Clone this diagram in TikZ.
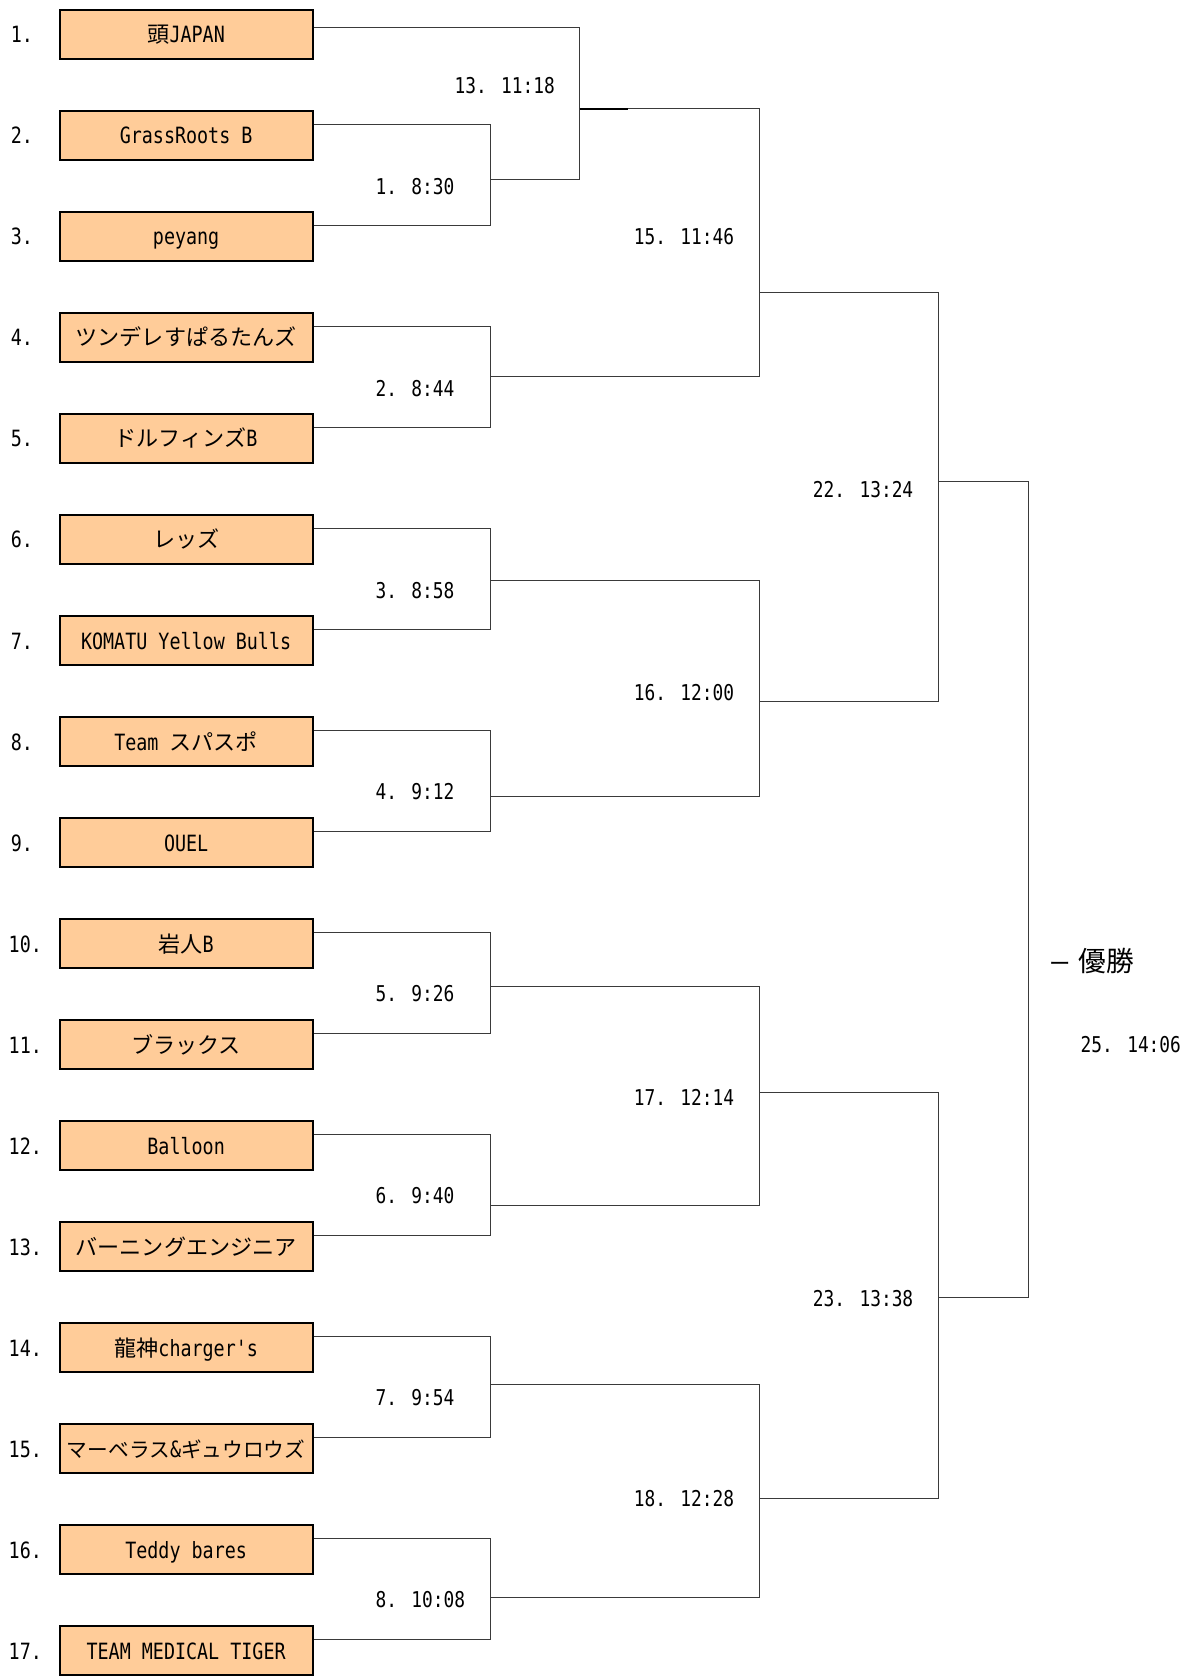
\documentclass[tikz,border=0pt]{standalone}
\usepackage{fontspec}
\usetikzlibrary{calc}
\newfontfamily\jpfont{Noto Sans CJK JP}
\newfontfamily\latfont[FakeStretch=0.82]{DejaVu Sans Mono}
\newcommand\jtx[1]{{\jpfont\fontsize{20.7}{21}\selectfont #1}}
\newcommand\jsm[1]{{\jpfont\fontsize{19.4}{21}\selectfont #1}}
\newcommand\ltsize{\latfont\fontsize{21}{21}\selectfont}
\newcommand\lblsize{\latfont\fontsize{20.4}{21}\selectfont}
\definecolor{peach}{HTML}{FFCC99}
\definecolor{wirecol}{HTML}{3A3A3A}
\begin{document}
\begin{tikzpicture}[x=1pt,y=-1pt,
  teambox/.style={draw=black, line width=1.9pt, fill=peach, minimum width=237pt,
    minimum height=46pt, inner sep=0pt, text height=15.3pt, text depth=0pt, font=\ltsize},
  numlbl/.style={anchor=west, inner sep=0pt, text height=15.3pt, text depth=0pt, font=\ltsize},
  matchlbl/.style={anchor=west, inner sep=0pt, text height=15.3pt, text depth=0pt, font=\lblsize},
  wire/.style={draw=wirecol, line width=1pt}]
\useasboundingbox (0,0) rectangle (1109.2,1571.3);
\fill[white] (0,0) rectangle (1109.2,1571.3);

% team boxes
\node[teambox] (t1)  at (174.5,32.6)   {\jtx{頭}JAPAN};
\node[teambox] (t2)  at (174.5,127.3)  {GrassRoots B};
\node[teambox] (t3)  at (174.5,222.0)  {peyang};
\node[teambox] (t4)  at (174.5,316.7)  {\jtx{ツンデレすぱるたんズ}};
\node[teambox] (t5)  at (174.5,411.4)  {\jtx{ドルフィンズ}B};
\node[teambox] (t6)  at (174.5,506.1)  {\jtx{レッズ}};
\node[teambox] (t7)  at (174.5,600.8)  {KOMATU Yellow Bulls};
\node[teambox] (t8)  at (174.5,695.5)  {Team \jtx{スパスポ}};
\node[teambox] (t9)  at (174.5,790.2)  {OUEL};
\node[teambox] (t10) at (174.5,884.9)  {\jtx{岩人}B};
\node[teambox] (t11) at (174.5,979.6)  {\jtx{ブラックス}};
\node[teambox] (t12) at (174.5,1074.3) {Balloon};
\node[teambox] (t13) at (174.5,1169.0) {\jtx{バーニングエンジニア}};
\node[teambox] (t14) at (174.5,1263.7) {\jtx{龍神}charger's};
\node[teambox] (t15) at (174.5,1358.4) {\jsm{マーベラス}\&\jsm{ギュウロウズ}};
\node[teambox] (t16) at (174.5,1453.1) {Teddy bares};
\node[teambox] (t17) at (174.5,1547.8) {TEAM MEDICAL TIGER};

% seed numbers
\node[numlbl] (n1)  at (10,32.6)   {1.};
\node[numlbl] (n2)  at (10,127.3)  {2.};
\node[numlbl] (n3)  at (10,222.0)  {3.};
\node[numlbl] (n4)  at (10,316.7)  {4.};
\node[numlbl] (n5)  at (10,411.4)  {5.};
\node[numlbl] (n6)  at (10,506.1)  {6.};
\node[numlbl] (n7)  at (10,600.8)  {7.};
\node[numlbl] (n8)  at (10,695.5)  {8.};
\node[numlbl] (n9)  at (10,790.2)  {9.};
\node[numlbl] (n10) at (8,884.9)   {10.};
\node[numlbl] (n11) at (8,979.6)   {11.};
\node[numlbl] (n12) at (8,1074.3)  {12.};
\node[numlbl] (n13) at (8,1169.0)  {13.};
\node[numlbl] (n14) at (8,1263.7)  {14.};
\node[numlbl] (n15) at (8,1358.4)  {15.};
\node[numlbl] (n16) at (8,1453.1)  {16.};
\node[numlbl] (n17) at (8,1547.8)  {17.};

% entry points on the boxes
\coordinate (p1) at ($(t1.east)+(0,-6.6)$);
\foreach \i in {2,...,17} {\coordinate (p\i) at ($(t\i.east)+(0,-11)$);}

% match junctions
\coordinate (m1)  at (460,168);
\coordinate (m2)  at (460,353);
\coordinate (m3)  at (460,544.5);
\coordinate (m4)  at (460,747);
\coordinate (m5)  at (460,925);
\coordinate (m6)  at (460,1130);
\coordinate (m7)  at (460,1298);
\coordinate (m8)  at (460,1498);
\coordinate (m13) at (543.5,102);
\coordinate (m15) at (712,274);
\coordinate (m16) at (712,658);
\coordinate (m17) at (712,1024);
\coordinate (m18) at (712,1405);
\coordinate (m22) at (880,451);
\coordinate (m23) at (880,1216);
\coordinate (m25) at (964.5,900);

% connectors
\draw[wire] (p2)  -| (m1) |- (p3);
\draw[wire] (p4)  -| (m2) |- (p5);
\draw[wire] (p6)  -| (m3) |- (p7);
\draw[wire] (p8)  -| (m4) |- (p9);
\draw[wire] (p10) -| (m5) |- (p11);
\draw[wire] (p12) -| (m6) |- (p13);
\draw[wire] (p14) -| (m7) |- (p15);
\draw[wire] (p16) -| (m8) |- (p17);
\draw[wire] (p1)  -| (m13) |- (m1);
\draw[wire] (m13) -| (m15) |- (m2);
\draw[wire] (m3)  -| (m16) |- (m4);
\draw[wire] (m5)  -| (m17) |- (m6);
\draw[wire] (m7)  -| (m18) |- (m8);
\draw[wire] (m15) -| (m22) |- (m16);
\draw[wire] (m17) -| (m23) |- (m18);
\draw[wire] (m22) -| (m25) |- (m23);
\draw[draw=black, line width=1.4pt] (m13) -- ($(m13)+(45,0)$);

% match labels
\node[matchlbl] (l13) at (426,80)   {13. 11:18};
\node[matchlbl] (l1)  at (352,175)  {1. 8:30};
\node[matchlbl] (l15) at (594,222)  {15. 11:46};
\node[matchlbl] (l2)  at (352,364)  {2. 8:44};
\node[matchlbl] (l22) at (762,459)  {22. 13:24};
\node[matchlbl] (l3)  at (352,553)  {3. 8:58};
\node[matchlbl] (l16) at (594,649)  {16. 12:00};
\node[matchlbl] (l4)  at (352,742)  {4. 9:12};
\node[matchlbl] (l5)  at (352,931)  {5. 9:26};
\node[matchlbl] (l25) at (1013,979) {25. 14:06};
\node[matchlbl] (l17) at (594,1029) {17. 12:14};
\node[matchlbl] (l6)  at (352,1121) {6. 9:40};
\node[matchlbl] (l23) at (762,1217) {23. 13:38};
\node[matchlbl] (l7)  at (352,1310) {7. 9:54};
\node[matchlbl] (l18) at (594,1405) {18. 12:28};
\node[matchlbl] (l8)  at (352,1499) {8. 10:08};
\node[anchor=west, inner sep=0pt] (win) at (984,901)
  {{\jpfont\fontsize{20}{20}\selectfont ー}\hspace{7pt}{\jpfont\fontsize{26}{26}\selectfont 優勝}};
\end{tikzpicture}
\end{document}
